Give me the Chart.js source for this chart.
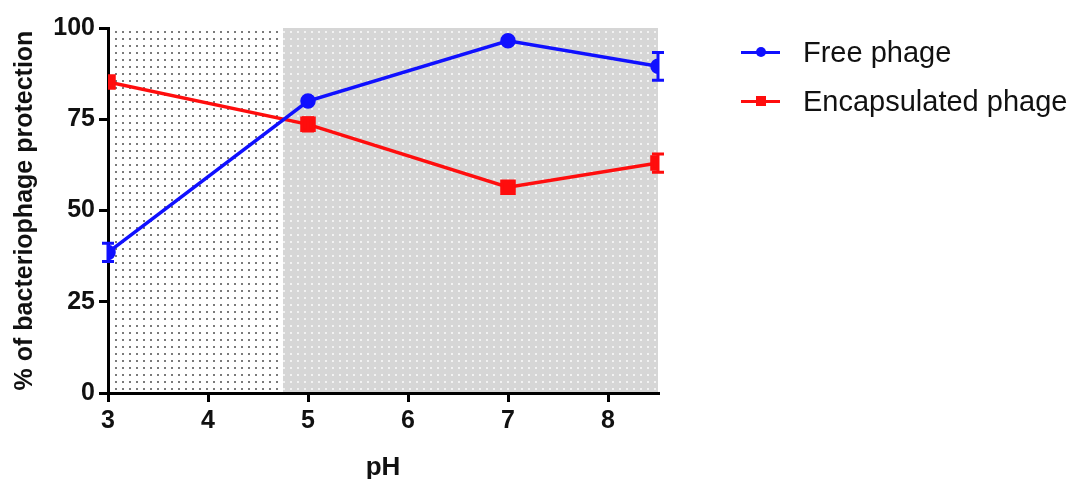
<!DOCTYPE html>
<html>
<head>
<meta charset="utf-8">
<script src="https://cdn.jsdelivr.net/npm/chart.js@4"></script>
<style>
  body { margin: 0; background: #fff; }
  #wrap { position: relative; width: 1077px; height: 479px; }
  #legend { position: absolute; left: 741px; top: 30px; font-family: "Liberation Sans", Arial, sans-serif; font-size: 29px; color: #111; }
  .item { position: relative; height: 49px; line-height: 44px; padding-left: 62px; }
  .item .ln { position: absolute; left: 0; top: 21px; width: 39px; height: 3px; }
  .item .mk { position: absolute; left: 15px; top: 17px; width: 10px; height: 10px; }
</style>
</head>
<body>
<div id="wrap">
  <canvas id="phChart" width="1077" height="479"></canvas>
  <div id="legend"></div>
</div>
<script>
// pH protection chart

const phValues = [3, 5, 7, 8.5];
const freePhage = [38.5, 80, 96.5, 89.5];
const freeErr = [2.5, 0.8, 0.8, 3.8];
const encPhage = [85.2, 73.6, 56.4, 63];
const encErr = [0.5, 1.8, 0.8, 2.5];
const xTicks = [3, 4, 5, 6, 7, 8];
const yTicks = [0, 25, 50, 75, 100];
const regionSplit = 4.75;

const seriesNames = ['Free phage', 'Encapsulated phage'];
const seriesColors = ['#1010ff', '#ff0d0d'];

function makePattern(bg, dot) {
  const c = document.createElement('canvas');
  c.width = 7; c.height = 7;
  const g = c.getContext('2d');
  g.fillStyle = bg;
  g.fillRect(0, 0, 7, 7);
  g.fillStyle = dot;
  g.fillRect(3, 3, 2, 2);
  return document.getElementById('phChart').getContext('2d').createPattern(c, 'repeat');
}

// shaded pH regions behind the plot
const regionPlugin = {
  id: 'regions',
  beforeDraw(chart) {
    const { ctx, chartArea, scales } = chart;
    const split = scales.x.getPixelForValue(regionSplit);
    ctx.save();
    ctx.fillStyle = makePattern('#ffffff', '#7a7a7a');
    ctx.fillRect(chartArea.left, chartArea.top, split - chartArea.left, chartArea.bottom - chartArea.top);
    ctx.fillStyle = makePattern('#d6d6d6', '#f2f2f2');
    ctx.fillRect(split, chartArea.top, chartArea.right - split, chartArea.bottom - chartArea.top);
    ctx.restore();
  }
};

// error bars from the err arrays
const errorPlugin = {
  id: 'errorBars',
  afterDatasetsDraw(chart) {
    const { ctx, scales } = chart;
    const errs = [freeErr, encErr];
    chart.data.datasets.forEach((ds, i) => {
      ctx.save();
      ctx.strokeStyle = seriesColors[i];
      ctx.lineWidth = 3;
      ds.data.forEach((p, j) => {
        if (errs[i][j] < 1) return; // hidden behind the marker
        const x = scales.x.getPixelForValue(p.x);
        const y1 = scales.y.getPixelForValue(p.y + errs[i][j]);
        const y2 = scales.y.getPixelForValue(p.y - errs[i][j]);
        ctx.beginPath();
        ctx.moveTo(x, y1); ctx.lineTo(x, y2);
        ctx.moveTo(x - 6, y1); ctx.lineTo(x + 6, y1);
        ctx.moveTo(x - 6, y2); ctx.lineTo(x + 6, y2);
        ctx.stroke();
      });
      ctx.restore();
    });
  }
};

const ctx = document.getElementById('phChart').getContext('2d');
new Chart(ctx, {
  type: 'line',
  data: {
    datasets: [
      {
        label: seriesNames[0],
        data: phValues.map((x, i) => ({ x: x, y: freePhage[i] })),
        borderColor: seriesColors[0],
        backgroundColor: seriesColors[0],
        borderWidth: 3.5,
        pointStyle: 'circle',
        pointRadius: 6,
        tension: 0
      },
      {
        label: seriesNames[1],
        data: phValues.map((x, i) => ({ x: x, y: encPhage[i] })),
        borderColor: seriesColors[1],
        backgroundColor: seriesColors[1],
        borderWidth: 3.5,
        pointStyle: 'rect',
        pointRadius: 8.5,
        tension: 0
      }
    ]
  },
  options: {
    responsive: false,
    animation: false,
    layout: { padding: { top: 28, right: 419, left: 0, bottom: 0 } },
    plugins: {
      legend: { display: false },
      tooltip: { enabled: false }
    },
    scales: {
      x: {
        type: 'linear',
        min: 3,
        max: 8.5,
        afterFit(scale) { scale.height = 86; },
        afterBuildTicks(scale) { scale.ticks = xTicks.map(v => ({ value: v })); },
        border: { color: '#000', width: 3 },
        grid: { drawOnChartArea: false, drawTicks: true, tickLength: 9, color: '#000', lineWidth: 3 },
        ticks: { color: '#111', font: { family: 'Liberation Sans', size: 25, weight: 'bold' }, padding: 4 },
        title: { display: true, text: 'pH', color: '#111', font: { family: 'Liberation Sans', size: 26, weight: 'bold' }, padding: { top: 22, bottom: -4 } }
      },
      y: {
        min: 0,
        max: 100,
        afterFit(scale) { scale.width = 108; },
        afterBuildTicks(scale) { scale.ticks = yTicks.map(v => ({ value: v })); },
        border: { color: '#000', width: 3 },
        grid: { drawOnChartArea: false, drawTicks: true, tickLength: 9, color: '#000', lineWidth: 3 },
        ticks: { color: '#111', font: { family: 'Liberation Sans', size: 25, weight: 'bold' }, padding: 4 },
        title: { display: true, text: '% of bacteriophage protection', color: '#111', font: { family: 'Liberation Sans', size: 25, weight: 'bold' }, padding: { top: 10, bottom: 0 } }
      }
    }
  },
  plugins: [regionPlugin, errorPlugin]
});

// html legend
const legend = document.getElementById('legend');
seriesNames.forEach((name, i) => {
  const item = document.createElement('div');
  item.className = 'item';
  const radius = i === 0 ? '50%' : '0';
  item.innerHTML = '<span class="ln" style="background:' + seriesColors[i] + '"></span>' +
    '<span class="mk" style="background:' + seriesColors[i] + ';border-radius:' + radius + '"></span>' + name;
  legend.appendChild(item);
});
</script>
</body>
</html>
